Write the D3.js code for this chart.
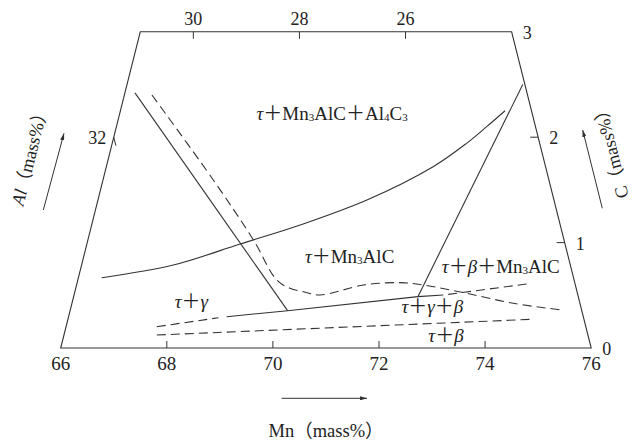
<!DOCTYPE html>
<html>
<head>
<meta charset="utf-8">
<script src="https://cdn.jsdelivr.net/npm/d3@7"></script>
<style>
  html, body { margin: 0; padding: 0; background: #fff; }
  svg { display: block; }
  text { font-family: "Liberation Serif", "Noto Sans CJK JP", serif; fill: #222; }
</style>
</head>
<body>
<svg id="chart" width="632" height="443"></svg>
<script>
// Mn–Al–C section (mass%), drawn as a sheared ternary window with the C axis stretched.
// Every composition point is given as [Mn, C]; Al = 100 - Mn - C.

const mnTicks = [66, 68, 70, 72, 74, 76];
const alTopTicks = [30, 28, 26];     // along C = 3
const alLeftTicks = [32];            // along Mn = 66
const cTicks = [0, 1, 2, 3];         // along Al = 24
const frame = [[66, 0], [66, 3], [73, 3], [76, 0]];

// phase boundaries
const gammaBoundary = [[66.19, 2.42], [70.10, 0.354]];
const betaBoundary = [[73.46, 2.50], [72.49, 0.487]];
const threePhaseSolid = [[68.98, 0.297], [70.10, 0.354], [72.49, 0.487], [72.96, 0.503]];
const threePhaseLeft = [[67.71, 0.202], [68.83, 0.287]];
const threePhaseRight = [[73.05, 0.509], [74.48, 0.607]];
const betaLower = [[67.75, 0.123], [74.74, 0.272]];
const carbideBoundary = [[66.44, 0.667], [67.73, 0.787], [68.89, 0.987], [69.93, 1.167], [71.07, 1.404],
                         [72.16, 1.720], [72.68, 1.942], [72.98, 2.100], [73.25, 2.251]];
const kappaBoundary = [[66.52, 2.40], [68.08, 1.594], [69.12, 1.025], [69.75, 0.645], [70.04, 0.566],
                       [70.31, 0.534], [70.64, 0.503], [71.41, 0.598], [72.09, 0.620], [72.54, 0.598],
                       [73.39, 0.519], [74.32, 0.424], [75.26, 0.361]];

// region names ("_n" = subscript) and their anchor compositions [Mn, C]
const regionNames = ["τ＋Mn_3AlC＋Al_4C_3", "τ＋Mn_3AlC", "τ＋β＋Mn_3AlC", "τ＋γ", "τ＋γ＋β", "τ＋β"];
const regionAnchors = [[68.61, 2.163], [70.20, 0.806], [72.83, 0.709], [67.96, 0.380], [72.26, 0.329], [72.90, 0.060]];

const svg = d3.select("#chart");
const ink = "#333";

const x = d3.scaleLinear().domain([66, 76]).range([60.7, 591.2]);
const y = d3.scaleLinear().domain([0, 3]).range([348, 31.8]);
const shear = (x(67) - x(66)) / 2;
const P = ([mn, c]) => [x(mn) + shear * c, y(c)];

const straight = d3.line();
const smooth = d3.line().curve(d3.curveCatmullRom.alpha(0.5));

// frame
svg.append("path")
  .attr("d", straight(frame.map(P)) + "Z")
  .attr("fill", "none").attr("stroke", ink).attr("stroke-width", 1.1);

// bottom Mn ticks
mnTicks.forEach(mn => {
  const [px, py] = P([mn, 0]);
  if (mn > 66 && mn < 76) {
    svg.append("line").attr("x1", px).attr("x2", px).attr("y1", py).attr("y2", py - 7)
      .attr("stroke", ink).attr("stroke-width", 1);
  }
  svg.append("text").attr("x", px).attr("y", py + 22).attr("text-anchor", "middle")
    .attr("font-size", 19).text(mn);
});

// top Al ticks (C = 3)
alTopTicks.forEach(al => {
  const [px, py] = P([100 - al - 3, 3]);
  svg.append("line").attr("x1", px).attr("x2", px).attr("y1", py).attr("y2", py + 7)
    .attr("stroke", ink).attr("stroke-width", 1);
  svg.append("text").attr("x", px).attr("y", py - 7).attr("text-anchor", "middle")
    .attr("font-size", 18).text(al);
});

// left Al ticks (Mn = 66), tick drawn along the iso-Al direction
alLeftTicks.forEach(al => {
  const c = 100 - 66 - al;
  const [px, py] = P([66, c]);
  const [qx, qy] = P([66.08, c - 0.08]);
  svg.append("line").attr("x1", px).attr("x2", qx).attr("y1", py).attr("y2", qy)
    .attr("stroke", ink).attr("stroke-width", 1);
  svg.append("text").attr("x", px - 7.5).attr("y", py + 6.5).attr("text-anchor", "end")
    .attr("font-size", 18).text(al);
});

// right C ticks (Al = 24)
cTicks.forEach(c => {
  const [px, py] = P([76 - c, c]);
  if (c > 0 && c < 3) {
    svg.append("line").attr("x1", px).attr("x2", px - 8).attr("y1", py).attr("y2", py)
      .attr("stroke", ink).attr("stroke-width", 1);
  }
  svg.append("text").attr("x", px + 11).attr("y", py + 7).attr("text-anchor", "start")
    .attr("font-size", 18).text(c);
});

// boundaries
const solid = [gammaBoundary, betaBoundary, threePhaseSolid];
solid.forEach(pts => svg.append("path").attr("d", straight(pts.map(P)))
  .attr("fill", "none").attr("stroke", ink).attr("stroke-width", 1.1));

svg.append("path").attr("d", smooth(carbideBoundary.map(P)))
  .attr("fill", "none").attr("stroke", ink).attr("stroke-width", 1.1);

const dashed = [threePhaseLeft, threePhaseRight, betaLower];
dashed.forEach(pts => svg.append("path").attr("d", straight(pts.map(P)))
  .attr("fill", "none").attr("stroke", ink).attr("stroke-width", 1.1).attr("stroke-dasharray", "9,5"));

svg.append("path").attr("d", smooth(kappaBoundary.map(P)))
  .attr("fill", "none").attr("stroke", ink).attr("stroke-width", 1.1).attr("stroke-dasharray", "9,5");

// region labels
function richLabel(sel, str) {
  const chars = Array.from(str);
  let shifted = false;
  for (let i = 0; i < chars.length; i++) {
    const ch = chars[i];
    if (ch === "_") {
      sel.append("tspan").attr("font-size", 11).attr("dy", 1).text(chars[++i]);
      shifted = true;
      continue;
    }
    const t = sel.append("tspan").text(ch);
    if (shifted) { t.attr("dy", -1); shifted = false; }
    if ("τγβ".includes(ch)) t.attr("font-style", "italic");
  }
}
regionNames.forEach((name, i) => {
  const [px, py] = P(regionAnchors[i]);
  const t = svg.append("text").attr("x", px).attr("y", py).attr("font-size", 19);
  richLabel(t, name);
});

// axis arrows
const defs = svg.append("defs");
defs.append("marker").attr("id", "head").attr("viewBox", "0 0 10 6")
  .attr("refX", 10).attr("refY", 3).attr("markerWidth", 7).attr("markerHeight", 4.2)
  .attr("markerUnits", "userSpaceOnUse").attr("orient", "auto")
  .append("path").attr("d", "M0,0L10,3L0,6Z").attr("fill", ink);

const arrows = [
  [[281.7, 398.3], [367, 398.3]],
  [[43.3, 210], [64, 133.3]],
  [[602.3, 208.3], [582.7, 130]]
];
arrows.forEach(([a, b]) => svg.append("line")
  .attr("x1", a[0]).attr("y1", a[1]).attr("x2", b[0]).attr("y2", b[1])
  .attr("stroke", ink).attr("stroke-width", 1).attr("marker-end", "url(#head)"));

// axis titles
svg.append("text").attr("x", 326).attr("y", 437).attr("text-anchor", "middle")
  .attr("font-size", 18.5).text("Mn（mass%）");

const alTitle = svg.append("text").attr("transform", "translate(30,155) rotate(-76)")
  .attr("x", 0).attr("y", 6).attr("text-anchor", "middle").attr("font-size", 18);
alTitle.append("tspan").attr("font-style", "italic").text("Al");
alTitle.append("tspan").text("（mass%）");

svg.append("text").attr("transform", "translate(611,150) rotate(-104)")
  .attr("x", 0).attr("y", 6).attr("text-anchor", "middle").attr("font-size", 18)
  .text("C（mass%）");
</script>
</body>
</html>
